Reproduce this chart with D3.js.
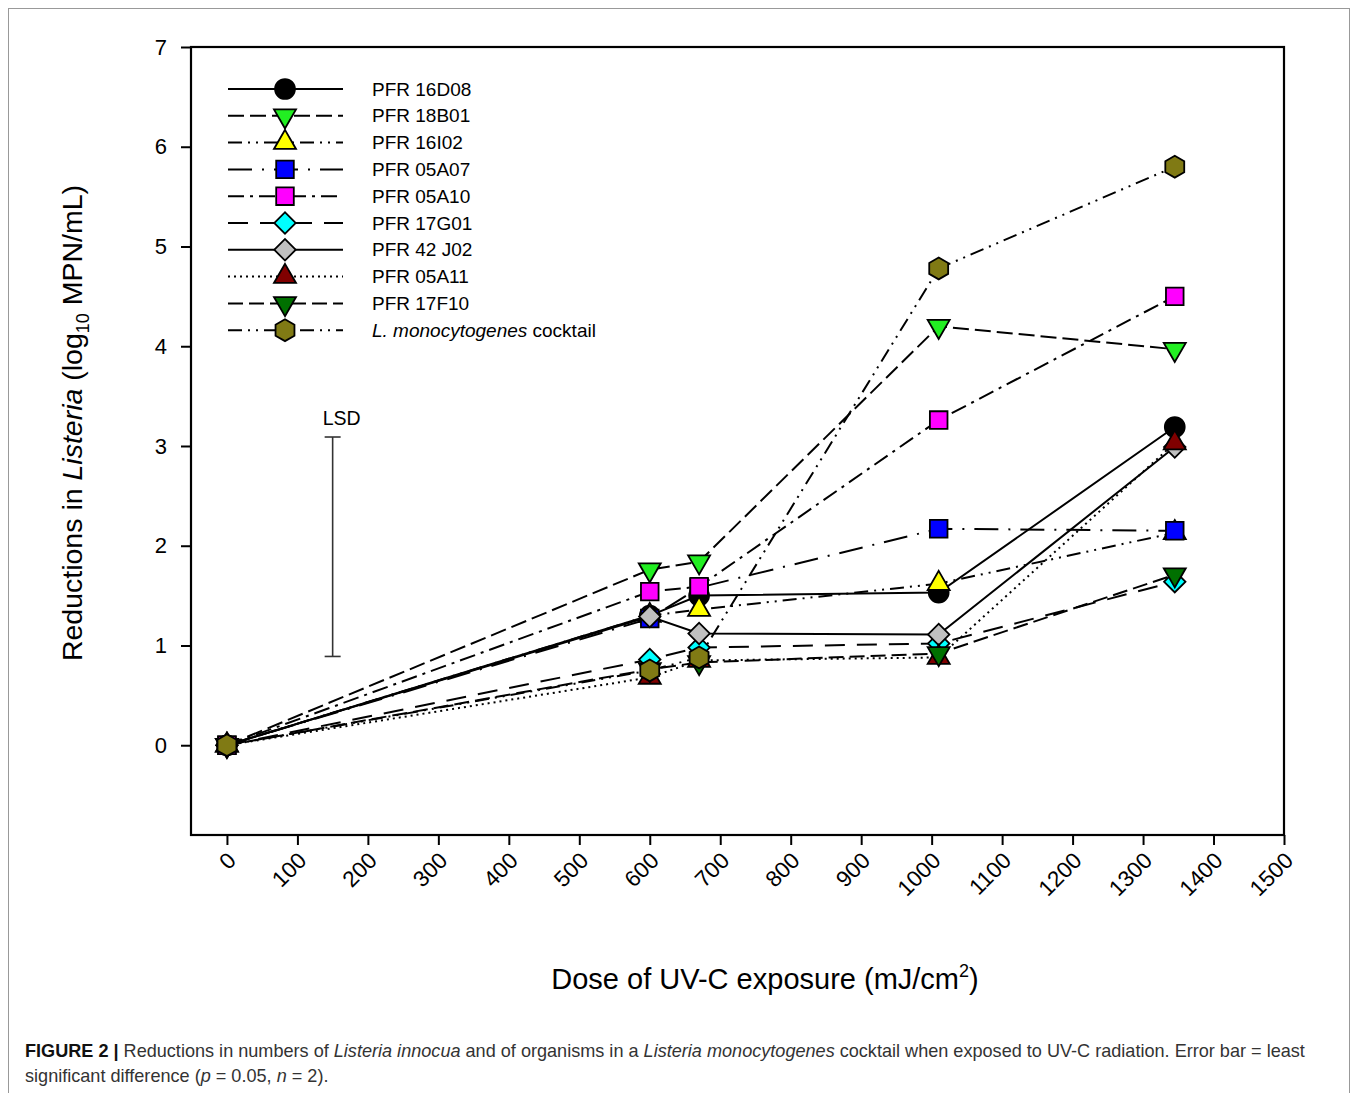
<!DOCTYPE html>
<meta charset="utf-8">
<style>
html, body { margin: 0; padding: 0; background: #fff; }
svg { display: block; font-family: Arial, 'Liberation Sans', sans-serif; }
</style>
<body>
<script src="https://cdn.jsdelivr.net/npm/d3@7"></script>
<script>
// doses (mJ/cm2) at which each strain was measured
var doses = [0, 600, 670, 1010, 1345];

var names = ['PFR 16D08', 'PFR 18B01', 'PFR 16I02', 'PFR 05A07', 'PFR 05A10',
             'PFR 17G01', 'PFR 42 J02', 'PFR 05A11', 'PFR 17F10', 'cocktail'];

// log10 reductions
var pfr16D08 = [0, 1.30, 1.50, 1.53, 3.19];
var pfr18B01 = [0, 1.76, 1.84, 4.20, 3.97];
var pfr16I02 = [0, 1.30, 1.36, 1.62, 2.13];
var pfr05A07 = [0, 1.27, 1.58, 2.17, 2.15];
var pfr05A10 = [0, 1.54, 1.59, 3.26, 4.50];
var pfr17G01 = [0, 0.86, 0.98, 1.02, 1.64];
var pfr42J02 = [0, 1.29, 1.12, 1.11, 2.99];
var pfr05A11 = [0, 0.68, 0.85, 0.88, 3.03];
var pfr17F10 = [0, 0.76, 0.83, 0.92, 1.71];
var cocktail = [0, 0.75, 0.88, 4.78, 5.80];

var lsd = [0.89, 3.09];   // LSD bar ends
var lsdDose = 150;

var xTicks = d3.range(0, 1501, 100);
var yTicks = d3.range(0, 8, 1);

var hexagon = {
  draw: function(ctx, size) {
    var r = Math.sqrt(size / (1.5 * Math.sqrt(3)));
    for (var i = 0; i < 6; i++) {
      var a = Math.PI / 3 * i - Math.PI / 2;
      if (i === 0) ctx.moveTo(r * Math.cos(a), r * Math.sin(a));
      else ctx.lineTo(r * Math.cos(a), r * Math.sin(a));
    }
    ctx.closePath();
  }
};

var series = [
  {name: names[0], values: pfr16D08, fill: '#000000', dash: null,               sym: d3.symbolCircle,   size: 310, rot: 0},
  {name: names[1], values: pfr18B01, fill: '#22ee22', dash: '16,6',             sym: d3.symbolTriangle, size: 210, rot: 180},
  {name: names[2], values: pfr16I02, fill: '#ffff00', dash: '14,6,2,6,2,6',     sym: d3.symbolTriangle, size: 210, rot: 0},
  {name: names[3], values: pfr05A07, fill: '#0000ff', dash: '24,10,2,10',       sym: d3.symbolSquare,   size: 310, rot: 0},
  {name: names[4], values: pfr05A10, fill: '#ff00ff', dash: '16,6,3,6',         sym: d3.symbolSquare,   size: 310, rot: 0},
  {name: names[5], values: pfr17G01, fill: '#00ffff', dash: '20,12',            sym: d3.symbolSquare,   size: 230, rot: 45},
  {name: names[6], values: pfr42J02, fill: '#c0c0c0', dash: null,               sym: d3.symbolSquare,   size: 230, rot: 45},
  {name: names[7], values: pfr05A11, fill: '#800000', dash: '2,4',              sym: d3.symbolTriangle, size: 210, rot: 0},
  {name: names[8], values: pfr17F10, fill: '#007000', dash: '15,6',             sym: d3.symbolTriangle, size: 210, rot: 180},
  {name: names[9], values: cocktail, fill: '#807a14', dash: '14,6,2,6,2,6',     sym: hexagon,           size: 310, rot: 0}
];

var W = 1358, H = 1093;
var svg = d3.select('body').append('svg').attr('width', W).attr('height', H);

// figure frame
svg.append('rect').attr('x', 8.5).attr('y', 8.5).attr('width', 1341).attr('height', 1110)
  .attr('fill', 'none').attr('stroke', '#999').attr('stroke-width', 1);

var pLeft = 191, pRight = 1284, pTop = 47, pBottom = 835;
var x = d3.scaleLinear().domain([-51, 1500]).range([pLeft, pRight]);
var y = d3.scaleLinear().domain([-0.9, 7]).range([pBottom, pTop]);

// y axis
var yAxis = svg.append('g').attr('transform', 'translate(' + pLeft + ',0)')
  .call(d3.axisLeft(y).tickValues(yTicks).tickSize(10).tickSizeOuter(0).tickPadding(14));
yAxis.select('.domain').remove();
yAxis.selectAll('line').attr('stroke', '#000').attr('stroke-width', 2);
yAxis.selectAll('text').attr('font-size', 22).attr('fill', '#000').attr('font-family', null);

// x axis
var xAxis = svg.append('g').attr('transform', 'translate(0,' + pBottom + ')')
  .call(d3.axisBottom(x).tickValues(xTicks).tickFormat(d3.format('d')).tickSize(10).tickSizeOuter(0));
xAxis.select('.domain').remove();
xAxis.selectAll('line').attr('stroke', '#000').attr('stroke-width', 2);
xAxis.selectAll('text')
  .attr('font-size', 22.5).attr('fill', '#000').attr('font-family', null)
  .attr('text-anchor', 'end').attr('dy', null).attr('y', 0)
  .attr('transform', 'translate(10,27) rotate(-45)');

// plot box
svg.append('rect').attr('x', pLeft).attr('y', pTop).attr('width', pRight - pLeft).attr('height', pBottom - pTop)
  .attr('fill', 'none').attr('stroke', '#000').attr('stroke-width', 2.2);

// axis titles
var yt = svg.append('text').attr('transform', 'translate(82,423) rotate(-90)')
  .attr('text-anchor', 'middle').attr('font-size', 28.5);
yt.append('tspan').text('Reductions in ');
yt.append('tspan').attr('font-style', 'italic').text('Listeria');
yt.append('tspan').text(' (log');
yt.append('tspan').attr('font-size', 18).attr('dy', 7).text('10');
yt.append('tspan').attr('dy', -7).text(' MPN/mL)');

var xt = svg.append('text').attr('x', 765).attr('y', 989).attr('text-anchor', 'middle').attr('font-size', 29);
xt.append('tspan').text('Dose of UV-C exposure (mJ/cm');
xt.append('tspan').attr('font-size', 18).attr('dy', -12).text('2');
xt.append('tspan').attr('dy', 12).text(')');

// LSD bar
var lsdG = svg.append('g').attr('stroke', '#333').attr('stroke-width', 1.6);
lsdG.append('line').attr('x1', x(lsdDose)).attr('x2', x(lsdDose)).attr('y1', y(lsd[0])).attr('y2', y(lsd[1]));
lsd.forEach(function(v) {
  lsdG.append('line').attr('x1', x(lsdDose) - 8).attr('x2', x(lsdDose) + 8).attr('y1', y(v)).attr('y2', y(v));
});
svg.append('text').attr('x', x(lsdDose) + 9).attr('y', y(lsd[1]) - 12).attr('text-anchor', 'middle')
  .attr('font-size', 19.5).text('LSD');

// lines
var line = d3.line().x(function(d, i) { return x(doses[i]); }).y(function(d) { return y(d); });
var lines = svg.append('g');
series.forEach(function(s) {
  lines.append('path').attr('d', line(s.values)).attr('fill', 'none')
    .attr('stroke', '#000').attr('stroke-width', 2)
    .attr('stroke-dasharray', s.dash);
});

// markers
var marks = svg.append('g');
series.forEach(function(s) {
  var path = d3.symbol().type(s.sym).size(s.size)();
  s.values.forEach(function(v, i) {
    marks.append('path').attr('d', path)
      .attr('transform', 'translate(' + x(doses[i]) + ',' + y(v) + ') rotate(' + s.rot + ')')
      .attr('fill', s.fill).attr('stroke', '#000').attr('stroke-width', 1.8);
  });
});

// legend
var leg = svg.append('g');
series.forEach(function(s, i) {
  var ry = 89 + i * 26.8;
  leg.append('line').attr('x1', 228).attr('x2', 343).attr('y1', ry).attr('y2', ry)
    .attr('stroke', '#000').attr('stroke-width', 2).attr('stroke-dasharray', s.dash);
  leg.append('path').attr('d', d3.symbol().type(s.sym).size(s.size)())
    .attr('transform', 'translate(285,' + ry + ') rotate(' + s.rot + ')')
    .attr('fill', s.fill).attr('stroke', '#000').attr('stroke-width', 1.8);
  var t = leg.append('text').attr('x', 372).attr('y', ry + 6.5).attr('font-size', 19);
  if (s.name === 'cocktail') {
    t.append('tspan').attr('font-style', 'italic').text('L. monocytogenes');
    t.append('tspan').text(' cocktail');
  } else {
    t.text(s.name);
  }
});

// caption
var cap = svg.append('g').attr('font-family', "'Liberation Sans Narrow', 'Liberation Sans', Arial, sans-serif")
  .attr('font-size', 18.1).attr('fill', '#333');
var c1 = cap.append('text').attr('x', 25).attr('y', 1057);
c1.append('tspan').attr('font-weight', 'bold').attr('fill', '#111').text('FIGURE 2 | ');
c1.append('tspan').text('Reductions in numbers of ');
c1.append('tspan').attr('font-style', 'italic').text('Listeria innocua');
c1.append('tspan').text(' and of organisms in a ');
c1.append('tspan').attr('font-style', 'italic').text('Listeria monocytogenes');
c1.append('tspan').text(' cocktail when exposed to UV-C radiation. Error bar = least');
var c2 = cap.append('text').attr('x', 25).attr('y', 1082);
c2.append('tspan').text('significant difference (');
c2.append('tspan').attr('font-style', 'italic').text('p');
c2.append('tspan').text(' = 0.05, ');
c2.append('tspan').attr('font-style', 'italic').text('n');
c2.append('tspan').text(' = 2).');
</script>
</body>
